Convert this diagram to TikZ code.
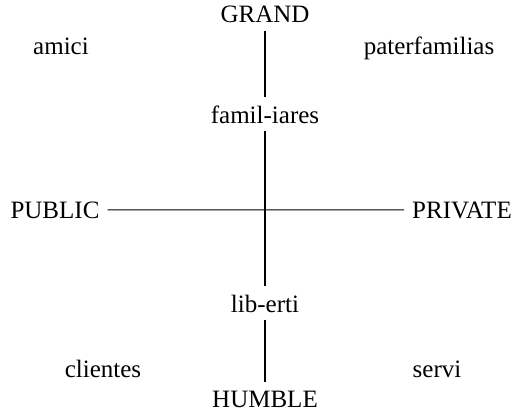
\documentclass[tikz,border=0pt]{standalone}
\usepackage{fontspec}
\setmainfont{Liberation Serif}
\begin{document}
\begin{tikzpicture}[x=1pt,y=-1pt,every node/.style={anchor=base,inner sep=8pt,font=\fontsize{25}{29}\selectfont}]
            \useasboundingbox (0,0) rectangle (525,412);
            \node (G)  at (265,23)  {GRAND};
            \node (Fi) at (265,123) {famil-iares};
            \node (Li) at (265,312) {lib-erti};
            \node (H)  at (265,407) {HUMBLE};
            \node (Pu) at (55,218)  {PUBLIC};
            \node (Pr) at (462,218) {PRIVATE};
            \node (am) at (61,55)   {amici};
            \node (pf) at (429,55)  {paterfamilias};
            \node (cl) at (103,377) {clientes};
            \node (sv) at (437,377) {servi};
            \draw[line width=1.3pt] (G) -- (Fi) -- (Li) -- (H);
            \draw[line width=0.9pt] (Pu) -- (Pr);
        \end{tikzpicture}
\end{document}
